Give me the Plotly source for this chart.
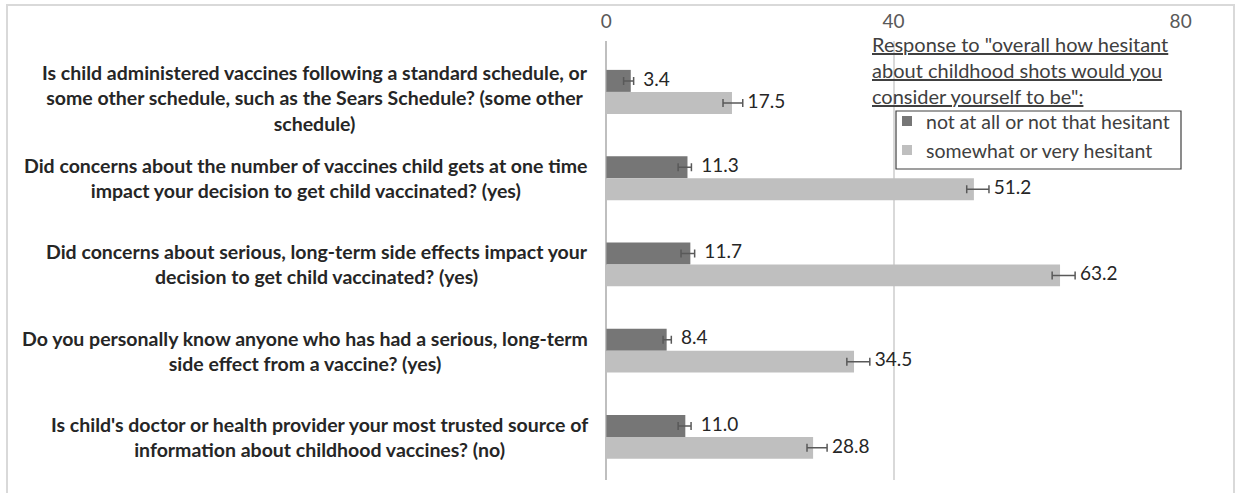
import plotly.graph_objects as go

categories = [
    "Is child administered vaccines following a standard schedule, or<br>some other schedule, such as the Sears Schedule? (some other<br>schedule)",
    "Did concerns about the number of vaccines child gets at one time<br>impact your decision to get child vaccinated? (yes)",
    "Did concerns about serious, long-term side effects impact your<br>decision to get child vaccinated? (yes)",
    "Do you personally know anyone who has had a serious, long-term<br>side effect from a vaccine? (yes)",
    "Is child's doctor or health provider your most trusted source of<br>information about childhood vaccines? (no)",
]
not_hesitant = [3.4, 11.3, 11.7, 8.4, 11.0]
not_err_plus = [0.4, 0.55, 0.6, 0.65, 0.8]
not_err_minus = [1.0, 1.3, 1.3, 0.5, 1.0]
hesitant = [17.5, 51.2, 63.2, 34.5, 28.8]
hes_err_plus = [1.5, 2.1, 2.1, 2.2, 1.95]
hes_err_minus = [1.25, 1.0, 1.1, 1.0, 0.85]
series_names = ["not at all or not that hesitant", "somewhat or very hesitant"]
x_ticks = [0, 40, 80]
legend_title = 'Response to "overall how hesitant<br>about childhood shots would you<br>consider yourself to be":'

W, H = 1238, 493
# plot area in screenshot pixels
PX0, PX1, PY0, PY1 = 606, 1181, 41, 480
L, R, T, B = PX0, W - PX1, PY0, H - PY1
pw, ph = PX1 - PX0, PY1 - PY0


def px(x):
    return (x - PX0) / pw


def py(y):
    return 1 - (y - PY0) / ph


FONT = "Lato"
TXT = "#262626"
LEG = "#404040"
colors = ["#767676", "#bfbfbf"]
pads = ["\u00a0\u00a0", "\u00a0"]
series = [
    (not_hesitant, not_err_plus, not_err_minus),
    (hesitant, hes_err_plus, hes_err_minus),
]

fig = go.Figure()
for i, (vals, ep, em) in enumerate(series):
    fig.add_trace(go.Bar(
        x=vals, y=categories, orientation="h", name=series_names[i],
        marker=dict(color=colors[i], line=dict(width=0)),
        offsetgroup=str(i), alignmentgroup="g", showlegend=False,
        error_x=dict(type="data", array=ep, arrayminus=em, symmetric=False,
                     color="#595959", thickness=1.5, width=4),
    ))
for i, (vals, ep, em) in enumerate(series):
    fig.add_trace(go.Scatter(
        x=[v + e for v, e in zip(vals, ep)], y=categories, orientation="h",
        mode="text", text=[pads[i] + f"{v:.1f}" for v in vals],
        textposition="middle right", textfont=dict(family=FONT, size=19, color=TXT),
        offsetgroup=str(i), alignmentgroup="g", showlegend=False, hoverinfo="skip",
    ))

annotations = []
for c in categories:
    nlines = c.count("<br>") + 1
    annotations.append(dict(
        text=c, x=px(590), xref="paper", y=c, yref="y",
        xanchor="right", yanchor="middle", align="center", showarrow=False,
        yshift=-6 if nlines > 2 else 0,
        font=dict(family=FONT, size=19.5, color=TXT, weight="bold"),
    ))
annotations.append(dict(
    text="<br>".join(f"<u>{s}</u>" for s in legend_title.split("<br>")),
    x=px(870), xref="paper", y=py(30), yref="paper",
    xanchor="left", yanchor="top", align="left", showarrow=False,
    font=dict(family=FONT, size=20, color=LEG),
))

# manual legend box (positions in screenshot pixels)
shapes = [dict(type="rect", xref="paper", yref="paper",
               x0=px(7), x1=px(1234), y0=py(520), y1=py(5),
               line=dict(color="#d9d9d9", width=2), layer="below"),
          dict(type="rect", xref="paper", yref="paper",
               x0=px(896), x1=px(1181), y0=py(169), y1=py(111),
               line=dict(color=LEG, width=1.2), fillcolor="white", layer="above")]
item_y = [121, 150]
for i, name in enumerate(series_names):
    shapes.append(dict(type="rect", xref="paper", yref="paper",
                       x0=px(902), x1=px(912), y0=py(item_y[i] + 5), y1=py(item_y[i] - 5),
                       line=dict(width=0), fillcolor=colors[i], layer="above"))
    annotations.append(dict(
        text=name, x=px(924), xref="paper", y=py(item_y[i]), yref="paper",
        xanchor="left", yanchor="middle", showarrow=False,
        font=dict(family=FONT, size=19.5, color=LEG),
    ))

fig.update_layout(
    width=W, height=H, margin=dict(l=L, r=R, t=T, b=B, autoexpand=False),
    paper_bgcolor="white", plot_bgcolor="white",
    barmode="group", scattermode="group", bargap=0.49, bargroupgap=0,
    font=dict(family=FONT, color=TXT),
    xaxis=dict(side="top", range=[-0.05, 80.05], tickvals=x_ticks, automargin=False,
               showgrid=True, gridcolor="#d9d9d9", gridwidth=1.5,
               zeroline=True, zerolinecolor="#bfbfbf", zerolinewidth=1.5,
               showline=False, ticks="", ticklabelstandoff=8,
               tickfont=dict(family=FONT, size=19, color="#595959")),
    yaxis=dict(categoryorder="array", categoryarray=categories, automargin=False,
               range=[4.5, -0.59], showticklabels=False, showgrid=False,
               zeroline=False, showline=False),
    annotations=annotations,
    shapes=shapes,
    showlegend=False,
)

fig.write_html("out.html", config={"displayModeBar": False},
               post_script="document.body.style.margin='0';")
